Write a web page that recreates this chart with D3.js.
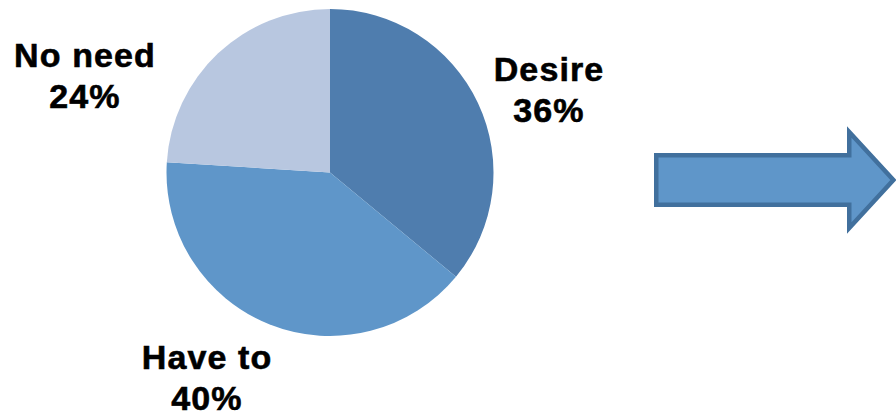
<!DOCTYPE html>
<html>
<head>
<meta charset="utf-8">
<script src="https://cdn.jsdelivr.net/npm/d3@7"></script>
<style>
  html, body { margin: 0; padding: 0; background: #fff; overflow: hidden; }
  svg { display: block; }
  .lbl { font-family: "Liberation Sans", Arial, Helvetica, sans-serif; font-weight: bold; font-size: 34px; letter-spacing: 1.1px; fill: #000; stroke: #000; stroke-width: 0.6px; }
</style>
</head>
<body>
<svg id="chart" width="896" height="415"></svg>
<script>
// Motivation split, percent of respondents
const categories = ["Desire", "Have to", "No need"];
const shares = [36, 40, 24];

// Styling
const sliceColors = ["#4f7dae", "#5f96c9", "#b8c7e0"];
const arrowFill = "#5f96c9";
const arrowStroke = "#41709d";

const W = 896, H = 415;
const cx = 330, cy = 172.5, R = 163.5;

// Where each two-line label sits (centre x, first baseline y)
const labelLayout = {
  "Desire":  { x: 549, y: 81 },
  "Have to": { x: 207, y: 369 },
  "No need": { x: 85,  y: 67 }
};
const lineGap = 41;

const svg = d3.select("#chart");

const rows = categories.map((c, i) => ({ name: c, value: shares[i], color: sliceColors[i] }));

const pie = d3.pie().sort(null).value(d => d.value).startAngle(0).endAngle(2 * Math.PI);
const arc = d3.arc().innerRadius(0).outerRadius(R);

const g = svg.append("g").attr("transform", `translate(${cx},${cy})`);
g.selectAll("path.slice")
  .data(pie(rows))
  .join("path")
  .attr("class", "slice")
  .attr("d", arc)
  .attr("fill", d => d.data.color);

// Labels: category name above its percentage
const labels = svg.selectAll("text.lbl")
  .data(rows)
  .join("text")
  .attr("class", "lbl")
  .attr("text-anchor", "middle");
labels.append("tspan")
  .attr("x", d => labelLayout[d.name].x)
  .attr("y", d => labelLayout[d.name].y)
  .text(d => d.name);
labels.append("tspan")
  .attr("x", d => labelLayout[d.name].x)
  .attr("y", d => labelLayout[d.name].y + lineGap)
  .text(d => d3.format(".0f")(d.value) + "%");

// Block arrow pointing right
const sw = 4.5, h = sw / 2;
const arrowPts = [
  [654 + h, 153 + h],
  [847 + h, 153 + h],
  [847 + h, 127 + h * 2.2],
  [897 - h * 1.6, 180],
  [847 + h, 233 - h * 2.2],
  [847 + h, 207 - h],
  [654 + h, 207 - h]
];
svg.append("path")
  .attr("d", d3.line()(arrowPts) + "Z")
  .attr("fill", arrowFill)
  .attr("stroke", arrowStroke)
  .attr("stroke-width", sw)
  .attr("stroke-linejoin", "miter");
</script>
</body>
</html>
